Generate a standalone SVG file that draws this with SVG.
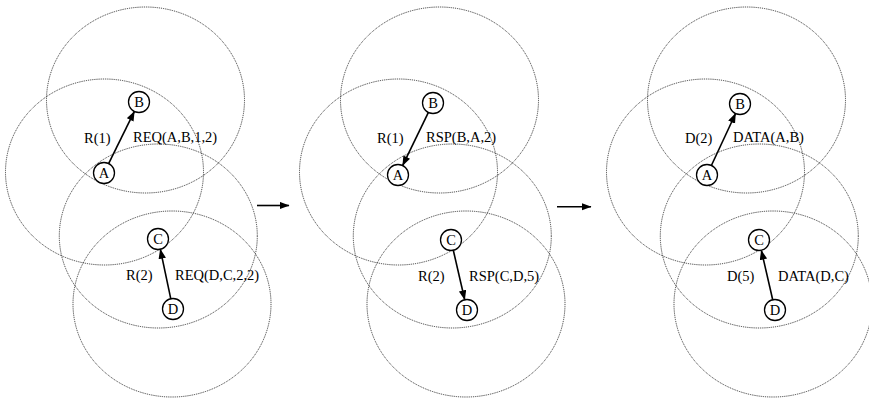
<svg xmlns="http://www.w3.org/2000/svg" width="869" height="398" viewBox="0 0 869 398">
<style>
.range{fill:none;stroke:#333;stroke-width:1;stroke-dasharray:1 0.9}
.node circle{fill:#fff;stroke:#000;stroke-width:1.3}
.node text,.lbl{font-family:"Liberation Serif","Times New Roman",serif;font-size:14.5px;fill:#000}
.node text{text-anchor:middle}
.edge{stroke:#000;stroke-width:1.6;fill:none;marker-end:url(#ah)}
</style>
<defs>
<marker id="ah" markerUnits="userSpaceOnUse" markerWidth="10" markerHeight="8" refX="9.5" refY="3.75" orient="auto">
<path d="M0,0 L10,3.75 L0,7.5 z" fill="#000"/>
</marker>
</defs>
<rect width="869" height="398" fill="#fff"/>
<g id="ranges">
<ellipse class="range" cx="145.5" cy="100" rx="99" ry="93"/>
<ellipse class="range" cx="104.5" cy="172" rx="99" ry="93"/>
<ellipse class="range" cx="158.3" cy="236" rx="99" ry="92"/>
<ellipse class="range" cx="172" cy="304" rx="99" ry="93"/>
<ellipse class="range" cx="439.5" cy="100" rx="99" ry="93"/>
<ellipse class="range" cx="398.5" cy="172" rx="99" ry="93"/>
<ellipse class="range" cx="452.3" cy="236" rx="99" ry="92"/>
<ellipse class="range" cx="466" cy="304" rx="99" ry="93"/>
<ellipse class="range" cx="746.5" cy="100" rx="99" ry="93"/>
<ellipse class="range" cx="705.5" cy="172" rx="99" ry="93"/>
<ellipse class="range" cx="759.3" cy="236" rx="99" ry="92"/>
<ellipse class="range" cx="773" cy="304" rx="99" ry="93"/>
</g>
<g id="connectors">
<line class="edge" x1="108.6" y1="163.6" x2="134.4" y2="111.4"/>
<line class="edge" x1="170.8" y1="298.8" x2="160.3" y2="249.2"/>
<line class="edge" x1="428.4" y1="112.4" x2="402.6" y2="165.6"/>
<line class="edge" x1="453.3" y1="250.2" x2="464.7" y2="299.8"/>
<line class="edge" x1="711.4" y1="165.5" x2="735.6" y2="113.5"/>
<line class="edge" x1="772.7" y1="299.8" x2="761.3" y2="250.2"/>
<line class="edge" x1="257" y1="205.5" x2="289" y2="205.5"/>
<line class="edge" x1="557" y1="206.7" x2="591" y2="206.7"/>
</g>
<g id="labels">
<text class="lbl" x="84" y="143">R(1)</text>
<text class="lbl" x="133" y="142">REQ(A,B,1,2)</text>
<text class="lbl" x="126" y="280">R(2)</text>
<text class="lbl" x="175" y="280">REQ(D,C,2,2)</text>
<text class="lbl" x="377" y="143">R(1)</text>
<text class="lbl" x="426" y="142">RSP(B,A,2)</text>
<text class="lbl" x="418" y="281">R(2)</text>
<text class="lbl" x="469" y="281">RSP(C,D,5)</text>
<text class="lbl" x="685" y="143">D(2)</text>
<text class="lbl" x="733" y="142">DATA(A,B)</text>
<text class="lbl" x="727" y="281">D(5)</text>
<text class="lbl" x="778" y="281">DATA(D,C)</text>
</g>
<g id="p1-B" class="node"><circle cx="139" cy="102" r="10.5"/><text x="139" y="107">B</text></g>
<g id="p1-A" class="node"><circle cx="104" cy="173" r="10.5"/><text x="104" y="178">A</text></g>
<g id="p1-C" class="node"><circle cx="158" cy="239" r="10.5"/><text x="158" y="244">C</text></g>
<g id="p1-D" class="node"><circle cx="173" cy="309" r="10.5"/><text x="173" y="314">D</text></g>
<g id="p2-B" class="node"><circle cx="433" cy="103" r="10.5"/><text x="433" y="108">B</text></g>
<g id="p2-A" class="node"><circle cx="398" cy="175" r="10.5"/><text x="398" y="180">A</text></g>
<g id="p2-C" class="node"><circle cx="451" cy="240" r="10.5"/><text x="451" y="245">C</text></g>
<g id="p2-D" class="node"><circle cx="467" cy="310" r="10.5"/><text x="467" y="315">D</text></g>
<g id="p3-B" class="node"><circle cx="740" cy="104" r="10.5"/><text x="740" y="109">B</text></g>
<g id="p3-A" class="node"><circle cx="707" cy="175" r="10.5"/><text x="707" y="180">A</text></g>
<g id="p3-C" class="node"><circle cx="759" cy="240" r="10.5"/><text x="759" y="245">C</text></g>
<g id="p3-D" class="node"><circle cx="775" cy="310" r="10.5"/><text x="775" y="315">D</text></g>
</svg>
